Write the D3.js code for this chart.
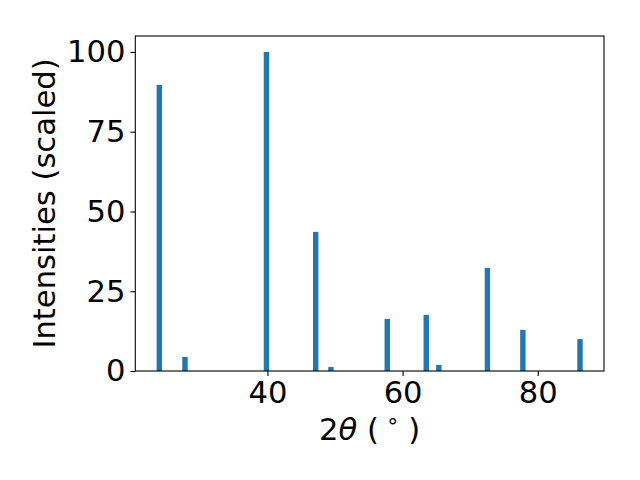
<!DOCTYPE html>
<html><head><meta charset="utf-8">
<script src="https://cdn.jsdelivr.net/npm/d3@7"></script>
<style>body{margin:0;background:#fff}</style>
</head><body>
<svg id="c" width="640" height="480"></svg>
<script>
const twoTheta = [24.0, 27.8, 39.85, 47.14, 49.4, 57.73, 63.5, 65.36, 72.55, 77.8, 86.25];
const intensity = [89.7, 4.4, 100, 43.6, 1.25, 16.3, 17.6, 1.9, 32.3, 12.9, 10.0];
const xTicks = [40, 60, 80];
const yTicks = [0, 25, 50, 75, 100];
const barWidth = 0.8;

const svg = d3.select("#c");
const L = 135.3, R = 604, T = 36, B = 371;
const font = "'DejaVu Sans', sans-serif";
const fs = 30.6;
const lo = d3.min(twoTheta) - barWidth/2, hi = d3.max(twoTheta) + barWidth/2;
const pad = (hi - lo) * 0.05;
const x = d3.scaleLinear().domain([lo - pad, hi + pad]).range([L, R]);
const y = d3.scaleLinear().domain([0, 105]).range([B, T]);

svg.append("g").selectAll("rect").data(twoTheta).join("rect")
  .attr("x", (d) => x(d - barWidth/2))
  .attr("width", (d) => x(d + barWidth/2) - x(d - barWidth/2))
  .attr("y", (d, i) => y(intensity[i]))
  .attr("height", (d, i) => y(0) - y(intensity[i]))
  .attr("fill", "#1f77b4");

const xa = svg.append("g").attr("transform", `translate(0,${B})`)
  .call(d3.axisBottom(x).tickValues(xTicks).tickSize(4.9).tickPadding(4.9).tickFormat(d3.format("d")));
const ya = svg.append("g").attr("transform", `translate(${L},0)`)
  .call(d3.axisLeft(y).tickValues(yTicks).tickSize(4.9).tickPadding(4.9).tickFormat(d3.format("d")));
[xa, ya].forEach(g => {
  g.select(".domain").remove();
  g.attr("font-family", font).attr("font-size", fs);
  g.selectAll("line").attr("stroke", "#000").attr("stroke-width", 1.1);
  g.selectAll("text").style("font-family", font).style("font-size", fs + "px").attr("fill", "#000");
});

svg.append("rect").attr("x", L).attr("y", T).attr("width", R - L).attr("height", B - T)
  .attr("fill", "none").attr("stroke", "#000").attr("stroke-width", 1.1);

const xl = svg.append("text").attr("x", (L + R) / 2).attr("y", 440)
  .attr("text-anchor", "middle").style("font-family", font).style("font-size", fs + "px").attr("fill", "#000");
xl.append("tspan").text("2");
xl.append("tspan").attr("font-style", "italic").text("θ");
xl.append("tspan").text(" (");
xl.append("tspan").style("font-size", (fs * 0.7) + "px").attr("dx", 7).attr("dy", -12).text("∘");
xl.append("tspan").attr("dx", 9).attr("dy", 12).text(")");

svg.append("text").attr("transform", `translate(55,${(T + B) / 2}) rotate(-90)`)
  .attr("text-anchor", "middle").style("font-family", font).style("font-size", fs + "px").attr("fill", "#000")
  .text("Intensities (scaled)");
</script>
</body></html>
